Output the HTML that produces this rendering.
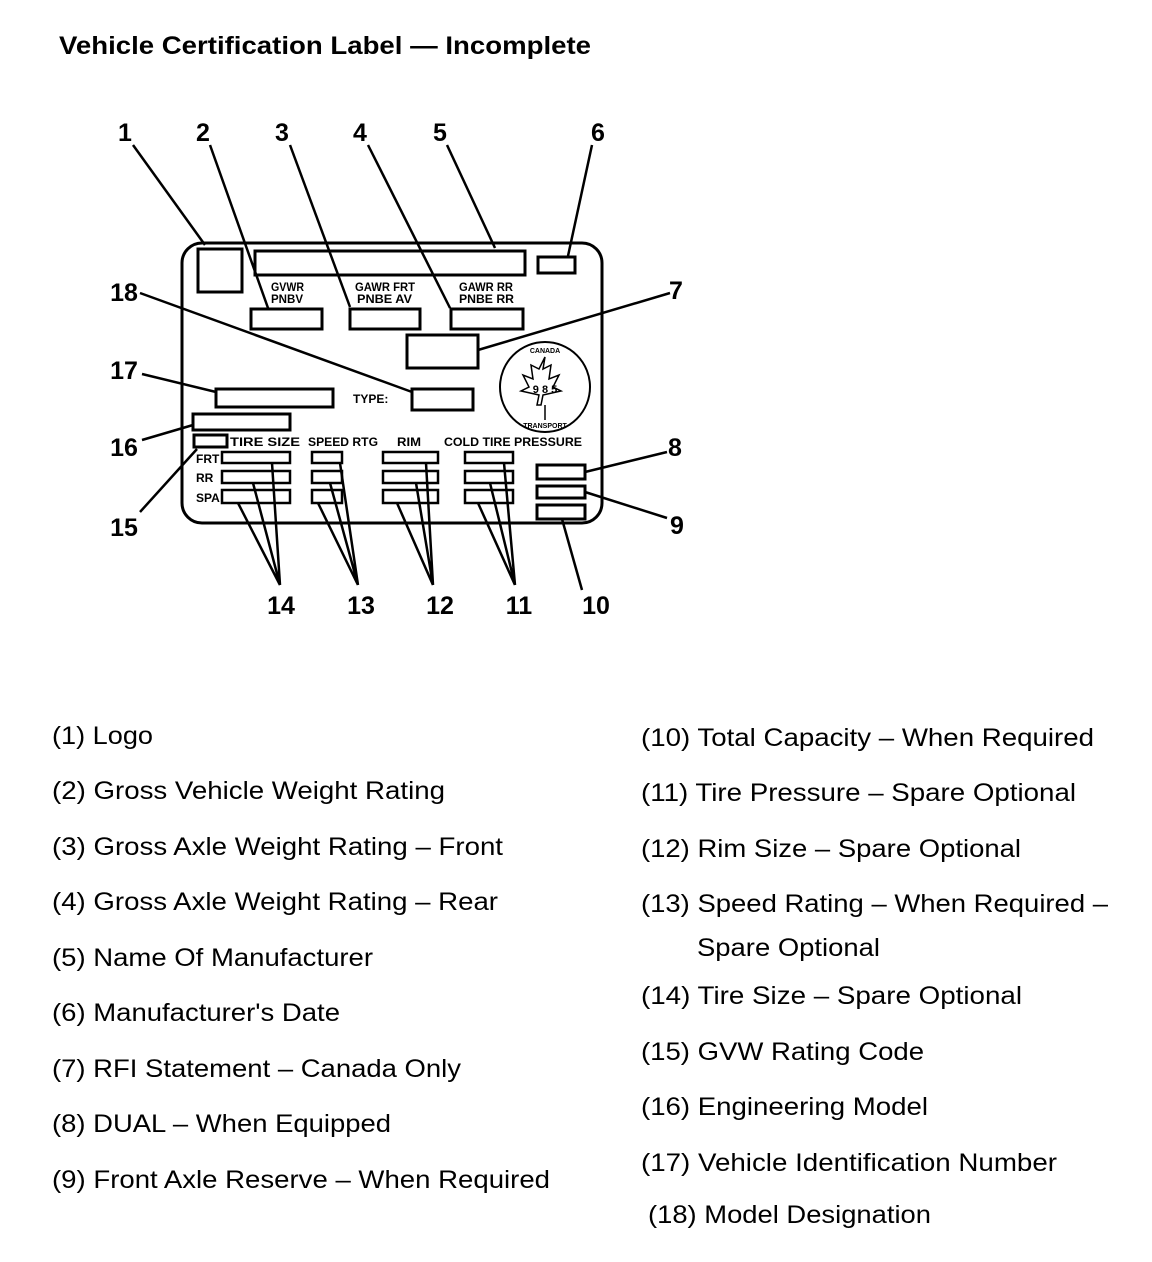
<!DOCTYPE html>
<html><head><meta charset="utf-8"><style>
html,body{margin:0;padding:0;background:#fff;}
svg{display:block}
</style></head><body>
<svg width="1152" height="1262" viewBox="0 0 1152 1262" xmlns="http://www.w3.org/2000/svg" font-family="Liberation Sans, sans-serif">
<text x="59" y="54" font-size="25" font-weight="bold" textLength="532" lengthAdjust="spacingAndGlyphs">Vehicle Certification Label — Incomplete</text>
<g fill="none" stroke="#000" stroke-width="3">
<rect x="182" y="243" width="420" height="280" rx="20"/>
<rect x="198" y="249" width="44" height="43"/>
<rect x="255" y="251" width="270" height="24"/>
<rect x="538" y="257" width="37" height="16"/>
<rect x="251" y="309" width="71" height="20"/>
<rect x="350" y="309" width="70" height="20"/>
<rect x="451" y="309" width="72" height="20"/>
<rect x="407" y="335" width="71" height="33"/>
<rect x="216" y="389" width="117" height="18"/>
<rect x="412" y="389" width="61" height="21"/>
<rect x="193" y="414" width="97" height="16"/>
<rect x="194" y="435" width="33" height="12"/>
<rect x="537" y="465" width="48" height="14"/>
<rect x="537" y="486" width="48" height="12"/>
<rect x="537" y="505" width="48" height="14"/>
</g>
<g fill="none" stroke="#000" stroke-width="2.5">
<rect x="222" y="452" width="68" height="11"/><rect x="222" y="471" width="68" height="12"/><rect x="222" y="490" width="68" height="13"/>
<rect x="312" y="452" width="30" height="11"/><rect x="312" y="471" width="30" height="12"/><rect x="312" y="490" width="30" height="13"/>
<rect x="383" y="452" width="55" height="11"/><rect x="383" y="471" width="55" height="12"/><rect x="383" y="490" width="55" height="13"/>
<rect x="465" y="452" width="48" height="11"/><rect x="465" y="471" width="48" height="12"/><rect x="465" y="490" width="48" height="13"/>
<circle cx="545" cy="387" r="45" stroke-width="2"/>
<path d="M545 357 l-6 12 -8-4 2 14 -10-4 6 12 -8 4 18 4 -2 10 4 0 2-10 18-4 -8-4 6-12 -10 4 2-14 -8 4z" stroke-width="1.5"/>
<line x1="545" y1="405" x2="545" y2="420" stroke-width="1.5"/>
</g>
<g font-size="12" font-weight="bold">
<text x="271" y="291" textLength="33" lengthAdjust="spacingAndGlyphs">GVWR</text><text x="271" y="303" textLength="32" lengthAdjust="spacingAndGlyphs">PNBV</text>
<text x="355" y="291" textLength="60" lengthAdjust="spacingAndGlyphs">GAWR FRT</text><text x="357" y="303" textLength="55" lengthAdjust="spacingAndGlyphs">PNBE AV</text>
<text x="459" y="291" textLength="54" lengthAdjust="spacingAndGlyphs">GAWR RR</text><text x="459" y="303" textLength="55" lengthAdjust="spacingAndGlyphs">PNBE RR</text>
<text x="353" y="403">TYPE:</text>
<text x="230" y="446" textLength="70" lengthAdjust="spacingAndGlyphs">TIRE SIZE</text>
<text x="308" y="446" textLength="70" lengthAdjust="spacingAndGlyphs">SPEED RTG</text>
<text x="397" y="446" textLength="24" lengthAdjust="spacingAndGlyphs">RIM</text>
<text x="444" y="446" textLength="138" lengthAdjust="spacingAndGlyphs">COLD TIRE PRESSURE</text>
<text x="196" y="463">FRT</text><text x="196" y="482">RR</text><text x="196" y="502">SPA</text>
<text x="545" y="393" font-size="11" text-anchor="middle">9 8 5</text>
<text x="545" y="353" font-size="7" text-anchor="middle">CANADA</text>
<text x="545" y="428" font-size="7" text-anchor="middle">TRANSPORT</text>
</g>
<g stroke="#000" stroke-width="2.5" fill="none">
<line x1="133" y1="145" x2="205" y2="245"/>
<line x1="210" y1="145" x2="268" y2="308"/>
<line x1="290" y1="145" x2="350" y2="307"/>
<line x1="368" y1="145" x2="450" y2="308"/>
<line x1="447" y1="145" x2="495" y2="248"/>
<line x1="592" y1="145" x2="568" y2="256"/>
<line x1="670" y1="293" x2="478" y2="350"/>
<line x1="140" y1="293" x2="412" y2="392"/>
<line x1="142" y1="374" x2="216" y2="392"/>
<line x1="142" y1="440" x2="193" y2="425"/>
<line x1="140" y1="512" x2="197" y2="449"/>
<line x1="667" y1="452" x2="585" y2="472"/>
<line x1="667" y1="518" x2="585" y2="492"/>
<line x1="582" y1="590" x2="562" y2="519"/>
<path d="M238 503 L280 585 M253 483 L280 585 M272 463 L280 585"/>
<path d="M318 503 L358 585 M330 483 L358 585 M340 463 L358 585"/>
<path d="M397 503 L433 585 M416 483 L433 585 M426 463 L433 585"/>
<path d="M478 503 L515 585 M490 483 L515 585 M504 463 L515 585"/>
</g>
<g font-size="25" font-weight="bold" text-anchor="middle">
<text x="125" y="141">1</text><text x="203" y="141">2</text><text x="282" y="141">3</text>
<text x="360" y="141">4</text><text x="440" y="141">5</text><text x="598" y="141">6</text>
<text x="676" y="299">7</text><text x="124" y="301">18</text><text x="124" y="379">17</text>
<text x="124" y="456">16</text><text x="675" y="456">8</text><text x="677" y="534">9</text>
<text x="124" y="536">15</text><text x="281" y="614">14</text><text x="361" y="614">13</text>
<text x="440" y="614">12</text><text x="519" y="614">11</text><text x="596" y="614">10</text>
</g>
<g font-size="25" lengthAdjust="spacingAndGlyphs">
<text x="52" y="744" textLength="101" lengthAdjust="spacingAndGlyphs">(1) Logo</text>
<text x="52" y="799" textLength="393" lengthAdjust="spacingAndGlyphs">(2) Gross Vehicle Weight Rating</text>
<text x="52" y="855" textLength="451" lengthAdjust="spacingAndGlyphs">(3) Gross Axle Weight Rating – Front</text>
<text x="52" y="910" textLength="446" lengthAdjust="spacingAndGlyphs">(4) Gross Axle Weight Rating – Rear</text>
<text x="52" y="966" textLength="321" lengthAdjust="spacingAndGlyphs">(5) Name Of Manufacturer</text>
<text x="52" y="1021" textLength="288" lengthAdjust="spacingAndGlyphs">(6) Manufacturer's Date</text>
<text x="52" y="1077" textLength="409" lengthAdjust="spacingAndGlyphs">(7) RFI Statement – Canada Only</text>
<text x="52" y="1132" textLength="339" lengthAdjust="spacingAndGlyphs">(8) DUAL – When Equipped</text>
<text x="52" y="1188" textLength="498" lengthAdjust="spacingAndGlyphs">(9) Front Axle Reserve – When Required</text>
<text x="641" y="746" textLength="453" lengthAdjust="spacingAndGlyphs">(10) Total Capacity – When Required</text>
<text x="641" y="801" textLength="435" lengthAdjust="spacingAndGlyphs">(11) Tire Pressure – Spare Optional</text>
<text x="641" y="857" textLength="380" lengthAdjust="spacingAndGlyphs">(12) Rim Size – Spare Optional</text>
<text x="641" y="912" textLength="467" lengthAdjust="spacingAndGlyphs">(13) Speed Rating – When Required –</text>
<text x="697" y="956" textLength="183" lengthAdjust="spacingAndGlyphs">Spare Optional</text>
<text x="641" y="1004" textLength="381" lengthAdjust="spacingAndGlyphs">(14) Tire Size – Spare Optional</text>
<text x="641" y="1060" textLength="283" lengthAdjust="spacingAndGlyphs">(15) GVW Rating Code</text>
<text x="641" y="1115" textLength="287" lengthAdjust="spacingAndGlyphs">(16) Engineering Model</text>
<text x="641" y="1171" textLength="416" lengthAdjust="spacingAndGlyphs">(17) Vehicle Identification Number</text>
<text x="648" y="1223" textLength="283" lengthAdjust="spacingAndGlyphs">(18) Model Designation</text>
</g>
</svg>
</body></html>
